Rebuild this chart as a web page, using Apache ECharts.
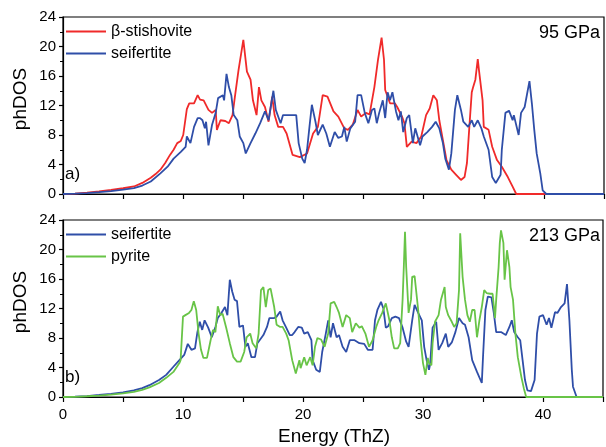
<!DOCTYPE html>
<html>
<head>
<meta charset="utf-8">
<script src="https://cdn.jsdelivr.net/npm/echarts@6/dist/echarts.min.js"></script>
<style>
  html, body { margin: 0; padding: 0; background: #fff; }
  #chart { width: 606px; height: 447px; }
</style>
</head>
<body>
<div id="chart"></div>
<script>
// Phonon density of states, [energy (THz), phDOS]
const stishovite95 = [[0,0],[1,0.06],[2,0.18],[3,0.36],[4,0.56],[5,0.78],[5.9,1.02],[6.6,1.5],[7.3,2.2],[7.7,2.7],[8.1,3.3],[8.5,4.2],[8.9,5.3],[9.2,6.0],[9.5,6.9],[9.8,7.2],[10.0,8.0],[10.3,11.5],[10.5,12.3],[10.9,12.3],[11.2,13.4],[11.4,12.8],[11.7,12.7],[12.1,11.4],[12.4,11.0],[12.7,11.4],[12.8,8.7],[13.1,10.0],[13.5,9.9],[13.8,9.6],[14.1,10.7],[14.3,13.2],[14.6,16.8],[15.0,20.9],[15.3,16.6],[15.6,15.5],[15.8,12.7],[16.1,10.7],[16.3,14.5],[16.5,12.7],[16.8,11.8],[17.1,9.8],[17.4,13.2],[17.6,10.7],[17.9,9.1],[18.3,9.1],[18.6,8.2],[19.1,5.3],[19.7,5.0],[20.3,5.5],[20.8,8.2],[21.2,9.1],[21.6,13.4],[22.0,13.2],[22.5,11.2],[22.9,10.5],[23.4,8.9],[23.7,8.7],[24.1,9.4],[24.5,11.4],[24.8,10.5],[25.2,11.0],[25.5,10.8],[25.9,14.5],[26.2,18.2],[26.5,21.2],[26.7,18.2],[26.8,14.1],[27.2,12.3],[27.6,12.3],[27.8,11.8],[28.2,10.5],[28.4,9.6],[28.6,6.4],[29.0,7.1],[29.4,6.9],[29.8,7.8],[30.2,10.7],[30.5,11.6],[30.8,13.4],[31.1,12.7],[31.3,10.0],[31.6,7.3],[31.9,4.6],[32.3,3.3],[32.7,2.6],[33.1,1.9],[33.4,2.3],[33.6,4.2],[33.8,9.1],[34.0,13.8],[34.1,14.4],[34.3,15.5],[34.5,18.3],[34.6,16.8],[34.9,12.7],[35.0,9.1],[35.4,8.7],[35.7,6.4],[36.1,4.6],[36.5,3.7],[37.0,2.3],[37.4,1.0],[37.7,0],[45,0]];

const seifertite95 = [[0,0],[1,0.04],[2,0.12],[3,0.25],[4,0.4],[5,0.6],[5.9,0.8],[6.6,1.15],[7.3,1.7],[8.1,2.8],[8.7,3.7],[9.2,4.8],[9.8,5.7],[10.2,6.4],[10.3,7.8],[10.6,6.9],[10.9,9.1],[11.2,10.3],[11.4,10.3],[11.6,10.0],[11.8,8.9],[11.9,9.8],[12.1,6.6],[12.4,9.4],[12.7,11.0],[12.9,13.0],[13.3,13.4],[13.4,12.7],[13.6,16.3],[13.8,14.5],[14.0,13.4],[14.2,10.7],[14.5,10.0],[14.7,7.8],[15.0,6.9],[15.2,5.5],[15.6,6.9],[16.0,8.2],[16.4,9.6],[16.8,11.2],[17.1,10.0],[17.5,14.0],[17.7,11.4],[18.1,9.6],[18.3,10.7],[18.9,10.7],[19.4,10.7],[19.6,6.9],[19.9,4.8],[20.1,4.2],[20.3,6.0],[20.5,9.1],[20.7,12.1],[21.0,9.8],[21.2,8.0],[21.6,9.4],[21.9,8.2],[22.2,6.4],[22.6,8.4],[22.9,7.6],[23.2,7.8],[23.4,9.1],[23.6,7.1],[23.9,8.9],[24.3,9.8],[24.5,13.4],[24.8,13.4],[25.1,11.0],[25.4,9.6],[25.7,11.4],[25.9,11.6],[26.1,9.6],[26.3,11.0],[26.6,12.7],[26.8,10.3],[27.0,13.8],[27.2,12.7],[27.4,13.8],[27.7,11.2],[27.9,10.0],[28.1,11.2],[28.3,8.4],[28.6,10.3],[28.8,10.7],[29.1,6.9],[29.3,8.9],[29.4,9.1],[29.7,6.6],[29.9,7.8],[30.3,8.4],[30.7,9.1],[31.0,9.8],[31.3,8.9],[31.6,6.9],[31.8,4.8],[32.1,3.3],[32.3,5.5],[32.6,11.4],[32.8,13.4],[33.1,11.4],[33.3,9.8],[33.7,9.1],[34.0,10.0],[34.2,9.1],[34.5,10.0],[34.8,8.9],[35.0,7.8],[35.4,6.0],[35.7,2.3],[36.0,1.5],[36.4,2.6],[36.5,6.0],[36.8,11.0],[37.1,11.3],[37.4,10.0],[37.5,10.7],[37.9,8.0],[38.1,11.0],[38.4,11.8],[38.5,11.9],[38.8,15.3],[39.0,12.3],[39.2,8.7],[39.4,5.5],[39.7,2.8],[39.9,0.5],[40.2,0],[45,0]];

const seifertite213 = [[0,0],[1,0.04],[2,0.13],[3,0.27],[4,0.42],[5,0.62],[5.9,0.9],[6.6,1.2],[7.2,1.6],[8.0,2.3],[8.6,3.0],[9.2,4.1],[9.7,5.0],[10.1,5.7],[10.4,7.2],[10.7,6.4],[11.0,6.6],[11.2,8.8],[11.4,10.2],[11.6,9.1],[11.8,10.4],[12.1,9.4],[12.4,8.1],[12.7,9.5],[12.9,10.7],[13.2,11.4],[13.5,12.2],[13.7,11.1],[13.9,15.9],[14.1,14.3],[14.3,13.2],[14.5,13.0],[14.7,9.5],[15.0,9.7],[15.2,6.8],[15.4,7.3],[15.7,5.4],[16.0,5.4],[16.2,7.3],[16.7,8.4],[17.0,9.5],[17.2,10.7],[17.6,10.7],[17.8,10.9],[18.1,11.6],[18.3,10.4],[18.6,9.4],[18.9,8.4],[19.1,8.4],[19.3,8.8],[19.6,9.5],[19.9,9.4],[20.1,8.6],[20.4,8.8],[20.7,7.7],[20.8,5.0],[21.1,3.7],[21.4,3.4],[21.6,6.1],[21.9,8.6],[22.1,10.4],[22.3,8.1],[22.5,10.0],[22.8,8.1],[23.0,8.4],[23.3,6.8],[23.6,6.1],[23.9,7.7],[24.3,7.7],[24.7,7.3],[25.1,7.2],[25.4,6.4],[25.8,6.4],[26.0,10.4],[26.2,11.8],[26.5,12.9],[26.7,12.0],[26.9,9.4],[27.1,9.6],[27.4,10.7],[27.7,10.9],[28.0,10.7],[28.3,9.4],[28.6,7.5],[28.8,6.8],[29.1,10.4],[29.3,12.5],[29.6,11.4],[29.9,10.4],[30.1,6.8],[30.3,5.0],[30.5,3.7],[30.6,4.5],[30.8,9.4],[31.1,10.2],[31.3,6.4],[31.6,7.3],[31.9,8.6],[32.1,6.8],[32.4,7.4],[32.7,8.8],[33.0,10.7],[33.3,10.0],[33.5,9.8],[33.8,8.1],[34.1,5.0],[34.5,3.4],[34.9,1.9],[35.0,5.4],[35.2,11.8],[35.4,13.6],[35.7,13.5],[35.9,11.4],[36.1,8.8],[36.5,8.8],[36.9,8.4],[37.2,9.5],[37.4,10.4],[37.6,8.8],[37.9,8.1],[38.1,7.7],[38.3,5.0],[38.5,2.3],[38.7,0.9],[39.0,0.8],[39.3,2.3],[39.5,8.6],[39.7,10.9],[40.0,11.1],[40.3,9.8],[40.5,10.7],[40.7,9.4],[41.0,11.5],[41.2,11.4],[41.5,12.2],[41.8,12.7],[42.0,15.3],[42.2,10.4],[42.4,3.7],[42.5,1.4],[42.8,0],[45,0]];

const pyrite213 = [[0,0],[1,0.03],[2,0.1],[3,0.2],[4,0.32],[5,0.48],[5.9,0.7],[6.6,0.98],[7.2,1.3],[8.0,1.9],[8.6,2.6],[9.2,3.4],[9.7,4.6],[9.8,5.0],[10.0,10.9],[10.2,11.1],[10.5,11.4],[10.7,11.8],[10.9,13.0],[11.0,13.2],[11.1,11.8],[11.3,8.6],[11.5,6.4],[11.7,5.3],[12.0,5.3],[12.3,7.7],[12.5,9.1],[12.7,8.8],[12.9,12.3],[13.1,11.1],[13.3,11.3],[13.6,9.4],[13.9,7.3],[14.2,5.4],[14.5,4.8],[14.8,4.8],[15.1,6.1],[15.3,8.1],[15.6,8.6],[15.8,7.3],[16.1,6.6],[16.3,8.6],[16.5,14.5],[16.7,14.9],[16.9,12.2],[17.1,14.5],[17.3,14.7],[17.6,12.2],[17.8,9.8],[18.1,9.5],[18.3,9.5],[18.6,8.6],[18.8,7.7],[19.1,5.0],[19.4,3.2],[19.7,5.0],[19.8,3.9],[20.1,5.4],[20.3,4.3],[20.6,5.4],[20.8,4.3],[21.0,6.8],[21.2,8.0],[21.5,7.8],[21.8,6.8],[22.1,8.6],[22.3,12.7],[22.6,12.9],[22.8,12.2],[23.0,11.4],[23.3,9.5],[23.6,11.1],[23.9,10.7],[24.1,8.8],[24.4,10.0],[24.7,9.4],[24.9,9.6],[25.2,8.6],[25.5,6.8],[25.8,7.7],[26.1,9.5],[26.3,10.4],[26.6,11.4],[26.9,12.7],[27.2,10.4],[27.4,8.1],[27.6,6.6],[27.9,6.6],[28.1,7.3],[28.3,13.2],[28.4,17.6],[28.5,22.4],[28.6,17.6],[28.8,11.4],[29.0,13.2],[29.1,16.3],[29.3,16.4],[29.4,16.5],[29.6,11.8],[29.8,7.7],[30.0,4.6],[30.2,3.0],[30.4,5.3],[30.5,4.6],[30.7,4.3],[30.8,7.3],[31.0,10.2],[31.3,11.1],[31.5,13.2],[31.8,14.9],[31.9,12.2],[32.1,11.1],[32.4,10.2],[32.6,9.5],[32.8,10.0],[33.0,14.5],[33.1,22.2],[33.3,16.3],[33.5,13.2],[33.7,11.1],[33.9,10.2],[34.1,11.8],[34.3,11.8],[34.5,8.1],[34.7,10.4],[34.9,12.2],[35.1,14.5],[35.3,14.1],[35.6,14.0],[35.8,14.0],[36.0,10.7],[36.1,13.2],[36.3,17.6],[36.4,20.9],[36.5,22.6],[36.7,20.9],[36.8,15.9],[37.0,19.9],[37.2,17.6],[37.3,14.9],[37.5,13.2],[37.7,8.6],[37.9,5.4],[38.2,2.7],[38.4,1.2],[38.6,0],[45,0]];

const energyTicks = [0, 45, 5];      // min, max, interval (THz)
const dosTicks = [0, 24, 4];         // min, max, interval
const panelLabels = ['a)', 'b)'];
const pressureLabels = ['95 GPa', '213 GPa'];

const RED = '#f02a2a', BLUE = '#2f4ea8', GREEN = '#68c447';
const FONT = '"Liberation Sans", Arial, Helvetica, sans-serif';

const grids = [
  { left: 63, top: 17, width: 541, height: 177 },
  { left: 63, top: 220, width: 541, height: 177 }
];

function xAxisFor(i) {
  return {
    type: 'value', gridIndex: i,
    min: energyTicks[0], max: energyTicks[1], interval: energyTicks[2],
    axisLine: { lineStyle: { color: '#000', width: 1.2 } },
    axisTick: { inside: false, length: 5, lineStyle: { color: '#000', width: 1.2 } },
    splitLine: { show: false },
    axisLabel: {
      show: i === 1, margin: 10, color: '#000', fontSize: 15, fontFamily: FONT,
      formatter: v => (v % 10 === 0 && v < energyTicks[1]) ? String(v) : ''
    }
  };
}
function yAxisFor(i) {
  return {
    type: 'value', gridIndex: i,
    min: dosTicks[0], max: dosTicks[1], interval: dosTicks[2],
    axisLine: { show: true, lineStyle: { color: '#000', width: 1.2 } },
    axisTick: { show: true, inside: false, length: 4, lineStyle: { color: '#000', width: 1.2 } },
    minorTick: { show: true, splitNumber: 2, length: 3, lineStyle: { color: '#000', width: 1 } },
    splitLine: { show: false },
    axisLabel: { margin: 7, color: '#000', fontSize: 15, fontFamily: FONT }
  };
}
function lineSeries(name, data, color, gi) {
  return {
    name, type: 'line', data, xAxisIndex: gi, yAxisIndex: gi,
    symbol: 'none', smooth: false, animation: false,
    lineStyle: { color, width: 1.8 }, itemStyle: { color }
  };
}
function legendFor(i, names) {
  return {
    orient: 'vertical', left: 66, top: grids[i].top + 6, padding: 0,
    icon: 'rect', itemWidth: 40, itemHeight: 2, itemGap: 5,
    data: names, selectedMode: false,
    textStyle: { fontSize: 16, color: '#000', fontFamily: FONT, lineHeight: 17 }
  };
}
function panelText(i) {
  const g = grids[i];
  return [
    { type: 'text', left: g.left + 2, top: g.top + g.height - 28,
      style: { text: panelLabels[i], fill: '#000', fontSize: 17, fontFamily: FONT } },
    { type: 'text', right: 6, top: g.top + 7,
      style: { text: pressureLabels[i], fill: '#000', fontSize: 18, fontFamily: FONT } },
    { type: 'text', x: 21, y: g.top + 82, rotation: Math.PI / 2,
      style: { text: 'phDOS', fill: '#000', fontSize: 19, fontFamily: FONT, textAlign: 'center', textVerticalAlign: 'middle' } }
  ];
}

const chart = echarts.init(document.getElementById('chart'), null, { renderer: 'canvas' });
chart.setOption({
  animation: false,
  backgroundColor: '#fff',
  textStyle: { fontFamily: FONT },
  grid: grids.map(g => Object.assign({ show: true, borderColor: '#000', borderWidth: 1.2 }, g)),
  xAxis: [xAxisFor(0), xAxisFor(1)],
  yAxis: [yAxisFor(0), yAxisFor(1)],
  legend: [legendFor(0, ['β-stishovite', 'seifertite']), legendFor(1, ['seifertite', 'pyrite'])],
  series: [
    lineSeries('β-stishovite', stishovite95, RED, 0),
    lineSeries('seifertite', seifertite95, BLUE, 0),
    lineSeries('seifertite', seifertite213, BLUE, 1),
    lineSeries('pyrite', pyrite213, GREEN, 1)
  ],
  graphic: [
    ...panelText(0), ...panelText(1),
    { type: 'text', x: 334, y: 446,
      style: { text: 'Energy (ThZ)', fill: '#000', fontSize: 19, fontFamily: FONT, textAlign: 'center', textVerticalAlign: 'bottom' } }
  ]
});
</script>
</body>
</html>
